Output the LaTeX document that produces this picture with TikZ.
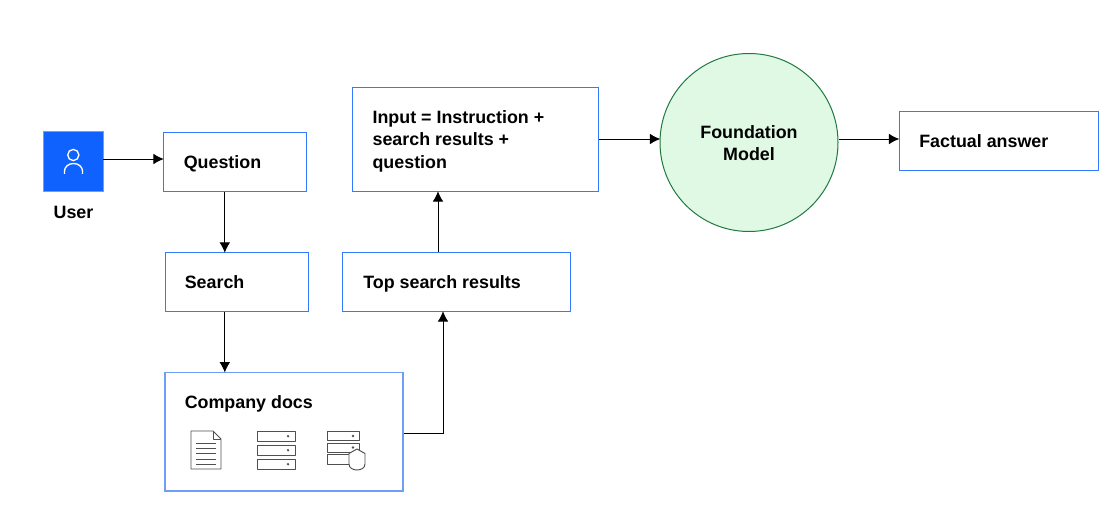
\documentclass[tikz,border=0pt]{standalone}
\usepackage{fontspec}
\setmainfont{Liberation Sans}
\usetikzlibrary{arrows.meta}
\definecolor{ibmblue}{HTML}{0F62FE}
\definecolor{softblue}{HTML}{6E9EF5}
\definecolor{mintfill}{HTML}{DFF9E5}
\definecolor{mintline}{HTML}{1F7A3F}
\definecolor{iconline}{HTML}{505050}
\tikzset{
  lab/.style={font=\fontsize{13.4}{16.9}\selectfont\bfseries, text=black, align=left, inner sep=0pt},
  box/.style={draw=ibmblue!85!white, line width=0.75pt, fill=white, inner sep=0pt, minimum width=#1},
  arrow/.style={draw=black, line width=0.72pt, shorten >=-0.6pt, -{Latex[length=7.8pt,width=8pt]}},
  icon/.style={draw=iconline, line width=0.72pt, line join=round},
}
\begin{document}
\begin{tikzpicture}[x=0.75pt,y=-0.75pt]
\useasboundingbox (0,0) rectangle (1113,516);
% boxes
\node[fill=ibmblue, draw=softblue, line width=0.5pt, minimum width=45pt, minimum height=45pt, inner sep=0pt] (user) at (73,161.5) {};
\node[box=107.25pt, minimum height=44.25pt] (question) at (235,162) {};
\node[box=107.25pt, minimum height=44.25pt] (search) at (236.5,282) {};
\node[draw=softblue, line width=1.1pt, fill=white, minimum width=178.5pt, minimum height=88.9pt, inner sep=0pt] (docs) at (284,431.75) {};
\node[box=171pt, minimum height=44.25pt] (top) at (456.5,282) {};
\node[box=184.5pt, minimum height=78pt] (input) at (475.5,139.5) {};
\node[circle, draw=mintline, fill=mintfill, line width=0.75pt, minimum size=133.5pt, inner sep=0pt] (model) at (749,142.5) {};
\node[box=149.6pt, minimum height=44.25pt] (answer) at (998.75,141) {};
% labels
\node[lab, anchor=base] (userlab) at (73.5,219) {User};
\node[lab, anchor=base west] (qlab) at (183.5,169) {Question};
\node[lab, anchor=base west] (slab) at (184.5,289) {Search};
\node[lab, anchor=base west] (clab) at (184.5,408) {Company docs};
\node[lab, anchor=base west] (tlab) at (363,289) {Top search results};
\node[lab, anchor=west] (ilab) at (372.3,141) {Input = Instruction +\\search results +\\question};
\node[lab, align=center] (mlab) at (749,143) {Foundation\\Model};
\node[lab, anchor=base west] (alab) at (919,148) {Factual answer};
% connectors
\coordinate (uq) at (103,159);
\draw[arrow] (user.east |- uq) -- (question.west |- uq);
\coordinate (qs) at (224.8,220);
\draw[arrow] (question.south -| qs) -- (search.north -| qs);
\draw[arrow] (search.south -| qs) -- (docs.north -| qs);
\coordinate (dt) at (443,433);
\draw[arrow] (docs.east |- dt) -- (dt) -- (top.south -| dt);
\coordinate (ti) at (438,220);
\draw[arrow] (top.north -| ti) -- (input.south -| ti);
\coordinate (im) at (630,139);
\draw[arrow] (input.east |- im) -- (model.west |- im);
\draw[arrow] (model.east |- im) -- (answer.west |- im);
% user glyph
\draw[white, line width=1pt] (73.3,155) circle (5.6);
\draw[white, line width=1pt] (64.5,174) -- (64.5,171) arc[start angle=180, end angle=0, x radius=9, y radius=-7.5] -- (82.5,174);
% document icon
\draw[icon] (191,431) -- (213,431) -- (221,439) -- (221,469) -- (191,469) -- cycle;
\draw[icon] (213,431) -- (213,439) -- (221,439);
\foreach \yy in {443.5,448.5,453.5,459,464}
  \draw[icon] (196,\yy) -- (216,\yy);
% server icon
\foreach \yy in {431,445,459} {
  \draw[icon] (257,\yy) rectangle (295,\yy+10.5);
  \fill[iconline] (288,\yy+5.2) circle (1.3);
}
% secure server icon
\foreach \yy in {431,443,454.5} {
  \draw[icon] (327,\yy) rectangle (359,\yy+9.5);
}
\fill[iconline] (353,436) circle (1.3);
\fill[iconline] (353,447.5) circle (1.3);
\draw[icon, fill=white] (357,449) -- (365,453.5) -- (365,464) .. controls (365,468) and (361,470) .. (357,470) .. controls (353,470) and (349,468) .. (349,464) -- (349,453.5) -- cycle;
\end{tikzpicture}
\end{document}
